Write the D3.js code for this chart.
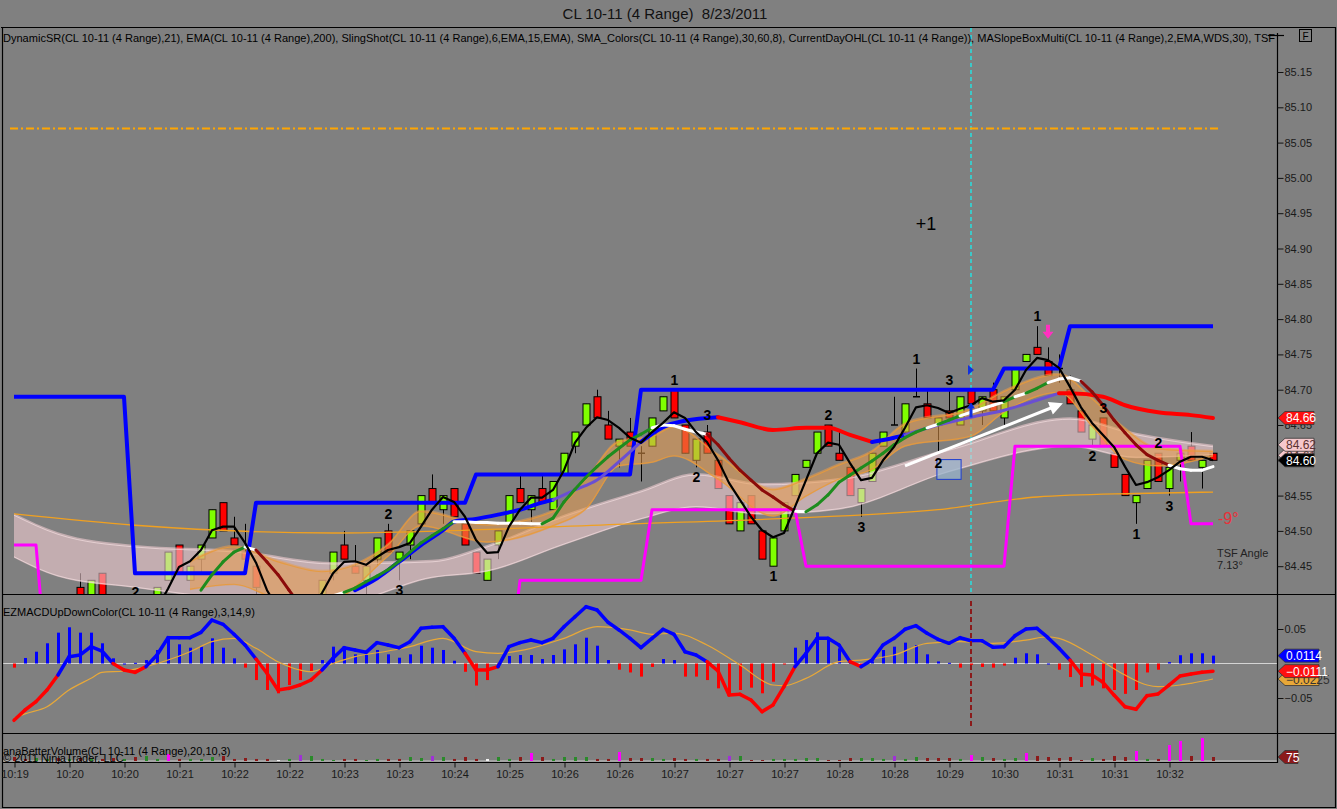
<!DOCTYPE html>
<html>
<head>
<meta charset="utf-8">
<script src="https://cdn.jsdelivr.net/npm/d3@7"></script>
<style>
html, body { margin: 0; padding: 0; background: #808080; }
svg { display: block; font-family: "Liberation Sans", Arial, sans-serif; }
</style>
</head>
<body>
<svg id="chart" width="1337" height="809"></svg>
<script>
// ---- data ----
var opens  = [84.33,84.31,84.35,84.39,84.36,84.40,84.42,84.39,84.44,84.39, 84.36,84.40,84.37,84.39,84.43,84.48,84.43,84.46,84.49,84.54,
              84.49,84.47,84.45,84.41,84.36,84.33,84.37,84.40,84.39,84.44, 84.48,84.45,84.43,84.46,84.50,84.46,84.48,84.51,84.56,84.53,
              84.56,84.51,84.47,84.43,84.48,84.51,84.56,84.53,84.56,84.53, 84.58,84.62,84.65,84.69,84.65,84.62,84.64,84.61,84.62,84.67,
              84.70,84.65,84.60,84.64,84.60,84.55,84.50,84.55,84.50,84.45, 84.50,84.55,84.59,84.61,84.65,84.61,84.59,84.54,84.57,84.62,
              84.65,84.64,84.69,84.68,84.65,84.67,84.65,84.70,84.67,84.70, 84.66,84.70,84.74,84.76,84.74,84.73,84.70,84.67,84.63,84.66,
              84.61,84.58,84.54,84.56,84.61,84.56,84.60,84.62,84.59,84.61];
var highs  = [84.34,84.34,84.38,84.39,84.39,84.40,84.44,84.43,84.44,84.39, 84.39,84.40,84.40,84.42,84.47,84.48,84.45,84.48,84.53,84.54,
              84.52,84.51,84.45,84.41,84.36,84.36,84.40,84.41,84.43,84.47, 84.50,84.48,84.45,84.49,84.51,84.47,84.50,84.55,84.58,84.55,
              84.56,84.51,84.47,84.46,84.50,84.55,84.58,84.55,84.58,84.57, 84.61,84.64,84.68,84.70,84.67,84.63,84.66,84.62,84.66,84.69,
              84.70,84.65,84.63,84.65,84.60,84.55,84.54,84.55,84.50,84.49, 84.54,84.58,84.60,84.64,84.65,84.64,84.59,84.56,84.61,84.64,
              84.69,84.68,84.73,84.70,84.66,84.70,84.69,84.70,84.69,84.71, 84.69,84.73,84.75,84.79,84.76,84.75,84.72,84.67,84.65,84.66,
              84.61,84.58,84.55,84.60,84.61,84.59,84.61,84.64,84.60,84.61];
var lows   = [84.30,84.31,84.34,84.35,84.35,84.36,84.40,84.39,84.40,84.35, 84.35,84.36,84.36,84.38,84.43,84.44,84.43,84.44,84.49,84.50,
              84.48,84.46,84.41,84.37,84.32,84.32,84.36,84.37,84.38,84.43, 84.46,84.44,84.41,84.45,84.47,84.43,84.46,84.51,84.54,84.51,
              84.52,84.48,84.44,84.43,84.46,84.51,84.54,84.51,84.54,84.53, 84.58,84.61,84.65,84.66,84.63,84.59,84.62,84.57,84.62,84.67,
              84.66,84.61,84.59,84.61,84.56,84.51,84.50,84.51,84.46,84.45, 84.50,84.55,84.59,84.61,84.62,84.60,84.55,84.52,84.57,84.62,
              84.65,84.64,84.69,84.66,84.61,84.66,84.65,84.68,84.65,84.67, 84.65,84.70,84.74,84.75,84.72,84.71,84.68,84.64,84.62,84.62,
              84.59,84.55,84.51,84.56,84.57,84.55,84.57,84.60,84.56,84.60];
var closes = [84.30,84.34,84.38,84.35,84.39,84.36,84.40,84.43,84.40,84.35, 84.39,84.37,84.40,84.42,84.47,84.44,84.45,84.48,84.53,84.50,
              84.48,84.46,84.42,84.37,84.33,84.36,84.40,84.37,84.43,84.47, 84.46,84.44,84.45,84.49,84.47,84.47,84.50,84.55,84.54,84.55,
              84.52,84.48,84.44,84.46,84.50,84.55,84.54,84.55,84.54,84.57, 84.61,84.64,84.68,84.66,84.63,84.63,84.62,84.61,84.66,84.69,
              84.66,84.61,84.63,84.61,84.56,84.51,84.54,84.51,84.46,84.49, 84.54,84.58,84.60,84.64,84.62,84.60,84.55,84.56,84.61,84.64,
              84.65,84.68,84.69,84.66,84.66,84.66,84.69,84.68,84.69,84.67, 84.69,84.73,84.75,84.75,84.72,84.73,84.68,84.64,84.65,84.62,
              84.59,84.55,84.55,84.60,84.57,84.59,84.61,84.60,84.60,84.60];

var timeTickBars = [0,5,10,15,20,25,30,35,40,45,50,55,60,65,70,75,80,85,90,95,100,105];
var timeLabels = ["10:19","10:20","10:20","10:21","10:22","10:22","10:23","10:23","10:24","10:25","10:26",
                  "10:26","10:27","10:27","10:27","10:28","10:28","10:29","10:30","10:31","10:31","10:32"];
var priceTicks = [85.15,85.10,85.05,85.00,84.95,84.90,84.85,84.80,84.75,84.70,84.65,84.60,84.55,84.50,84.45];
var macdTicks = [0.05,-0.05];

// DynamicSR steps: [fromBar, toBar, level]
var resistRuns = [[0,10,84.69],[11,21,84.44],[22,41,84.54],[42,56,84.58],[57,89,84.70],[90,95,84.73],[96,109,84.79]];
var supportRuns = [[0,2,84.48],[3,45,84.30],[46,57,84.43],[58,71,84.53],[72,90,84.45],[91,106,84.62],[107,109,84.51]];
var dayHigh = 85.07;

// SlingShot fast (black) and slow (slope coloured)
var fastStart = 13;
var fastLine = [84.39,84.418,84.449,84.457,84.473,84.501,84.506,84.506,84.483,84.455,84.416,84.39,84.37,84.37,84.39,
  84.412,84.440,84.456,84.457,84.452,84.463,84.473,84.477,84.483,84.506,84.530,84.548,84.541,84.520,84.487,84.469,84.470,
  84.506,84.530,84.547,84.547,84.558,84.586,84.625,84.646,84.661,84.657,84.646,84.632,84.625,84.640,84.653,84.668,84.660,
  84.640,84.626,84.600,84.568,84.544,84.520,84.501,84.491,84.497,84.534,84.572,84.610,84.625,84.622,84.596,84.572,84.575,
  84.600,84.619,84.646,84.675,84.678,84.674,84.667,84.673,84.678,84.688,84.683,84.685,84.700,84.728,84.745,84.742,84.731,
  84.704,84.675,84.653,84.636,84.619,84.591,84.565,84.569,84.576,84.586,84.598,84.605,84.605,84.600];
var slowStart = 17;
var slowLine = [84.416,84.438,84.456,84.470,84.477,84.473,84.456,84.438,84.416,84.395,
  84.390,84.400,84.408,84.413,84.419,84.428,84.436,84.445,84.457,84.470,
  84.483,84.493,84.503,84.513,84.513,84.512,84.512,84.511,84.511,84.511,
  84.510,84.510,84.518,84.541,84.559,84.576,84.591,84.605,84.617,84.629,
  84.637,84.646,84.650,84.649,84.644,84.640,84.637,84.622,84.603,84.586,
  84.572,84.558,84.548,84.537,84.528,84.527,84.537,84.551,84.569,84.579,
  84.589,84.599,84.610,84.622,84.632,84.640,84.646,84.651,84.657,84.663,
  84.668,84.673,84.678,84.683,84.690,84.695,84.702,84.710,84.715,84.717,
  84.712,84.697,84.678,84.657,84.639,84.622,84.608,84.600,84.593,84.588,84.586,84.586,84.591];

// MASlopeBox line: sampled [bar, price] and its state runs
var trendPts = [[31,84.416],[33,84.433],[35,84.456],[37,84.480],[39,84.501],[40,84.513],[42,84.517],[44,84.523],[46,84.530],
  [48,84.540],[49,84.544],[51,84.558],[53,84.572],[55,84.598],[57,84.626],[59,84.647],[61,84.656],[64,84.661],[66,84.654],
  [69,84.643],[72,84.646],[74,84.646],[76,84.636],[78,84.626],[80,84.632],[81,84.636],[84,84.650],[87,84.661],[90,84.671],
  [93,84.685],[95,84.695],[96,84.695],[99,84.690],[101,84.678],[104,84.668],[107,84.664],[109,84.660]];
var trendRuns = [[31,49,"up"],[49,57,"mid"],[57,64,"up"],[64,78,"down"],[78,81,"up"],[81,95,"mid"],[95,109,"down"]];

// SMA_Colors bands
var pinkIdx   = [0,4,11,20,29,38,43,50,57,62,68,75,85,96,102,109];
var pinkUpper = [84.525,84.498,84.480,84.473,84.456,84.459,84.480,84.523,84.558,84.582,84.568,84.575,84.617,84.661,84.639,84.622];
var pinkLower = [84.462,84.435,84.419,84.402,84.395,84.433,84.442,84.480,84.516,84.533,84.523,84.530,84.583,84.619,84.603,84.607];
var orangeIdx   = [16,20,24,28,34,37,43,49,52,55,58,60,64,69,72,75,78,81,87,90,95,98,101,104,109];
var orangeUpper = [84.459,84.480,84.459,84.445,84.483,84.530,84.511,84.530,84.576,84.629,84.636,84.650,84.610,84.561,84.576,
                   84.596,84.615,84.654,84.675,84.700,84.724,84.690,84.647,84.619,84.615];
var orangeLower = [84.416,84.423,84.402,84.395,84.463,84.506,84.483,84.506,84.530,84.591,84.596,84.605,84.572,84.520,84.548,
                   84.572,84.586,84.619,84.633,84.667,84.695,84.647,84.600,84.591,84.605];
var emaIdx = [0,11,29,39,56,69,84,93,102,109];
var emaVal = [84.524,84.508,84.497,84.500,84.510,84.517,84.530,84.548,84.553,84.555];

// swing counts: [bar, text, side]
var swingLabels = [[11,"2","above"],[34,"2","above"],[35,"3","below"],[60,"1","above"],[62,"2","below"],[63,"3","above"],
  [69,"1","below"],[74,"2","above"],[77,"3","below"],[82,"1","above"],[84,"2","below"],[85,"3","above"],[93,"1","above"],
  [98,"2","below"],[99,"3","above"],[102,"1","below"],[104,"2","above"],[105,"3","below"]];
var trendArrow = [[81,84.592],[94.9,84.678]];
var slopeBox = [[83.9,84.601],[86.1,84.573]];
var cursorBar = 87;

// EZMACD
var macdLine = [-0.0823,-0.0674,-0.0553,-0.0384,-0.0167,0.0099,0.0123,0.0244,0.0181,0.0,
  -0.0094,-0.0128,-0.0046,0.0123,0.0374,0.0374,0.0374,0.0452,0.063,0.0568,
  0.0423,0.0268,0.0065,-0.0142,-0.0384,-0.036,-0.0312,-0.0239,-0.0094,0.0075,
  0.0229,0.0196,0.0162,0.0302,0.0268,0.0229,0.0316,0.051,0.0525,0.0533,
  0.0365,0.0148,-0.0094,-0.0094,-0.0046,0.0244,0.0302,0.034,0.0302,0.0365,
  0.0533,0.0678,0.0823,0.0775,0.0597,0.0486,0.0365,0.0229,0.0365,0.0496,
  0.0423,0.0171,0.0123,0.0026,-0.0109,-0.0457,-0.0447,-0.0529,-0.0698,-0.0601,
  -0.0336,-0.0046,0.0148,0.0365,0.0365,0.0268,0.0026,-0.0046,0.005,0.0268,
  0.0365,0.0496,0.0548,0.0438,0.0351,0.0293,0.0374,0.033,0.033,0.0235,
  0.0244,0.0403,0.05,0.051,0.0374,0.022,0.005,-0.0152,-0.0167,-0.0273,
  -0.0457,-0.0626,-0.0664,-0.0467,-0.0442,-0.0312,-0.0181,-0.0152,-0.0128,-0.0111];
var macdHist = [-0.006,0.008,0.0171,0.0293,0.0447,0.0525,0.0447,0.0447,0.0293,0.0075,
  0,0.001,0.005,0.0196,0.0399,0.0278,0.0229,0.0244,0.0365,0.0229,
  0.0075,-0.006,-0.024,-0.0384,-0.0432,-0.0312,-0.024,-0.0109,0.005,0.0244,
  0.0244,0.0133,0.0123,0.0196,0.0133,0.0084,0.0133,0.0258,0.0229,0.0196,
  0.004,-0.012,-0.032,-0.024,-0.006,0.0109,0.0123,0.0123,0.0065,0.0123,
  0.0205,0.0278,0.0374,0.0258,0.005,-0.009,-0.013,-0.019,-0.005,0.0065,
  0.005,-0.019,-0.019,-0.024,-0.036,-0.0457,-0.0384,-0.035,-0.0432,-0.0264,
  -0.001,0.0229,0.034,0.0452,0.0365,0.022,0.005,-0.005,0.003,0.0196,
  0.0244,0.0302,0.0268,0.0133,0.003,0.001,-0.006,-0.002,-0.005,-0.006,
  -0.003,0.0084,0.0148,0.0133,0,-0.009,-0.0196,-0.034,-0.032,-0.036,
  -0.0384,-0.044,-0.0384,-0.013,-0.009,0.002,0.012,0.0148,0.0148,0.0114];
var sigIdx = [0,1,3,5,7,8,10,12,14,16,18,20,22,24,26,27,29,31,34,36,38,39,42,44,47,50,53,56,58,60,
  63,66,69,70,72,75,77,80,83,86,89,92,94,95,98,101,103,104,106,107,109];
var sigVal = [-0.0794,-0.073,-0.0626,-0.0384,-0.0215,-0.0128,-0.0109,-0.0046,0.005,0.0171,
  0.0316,0.0365,0.022,0.0026,-0.0094,-0.0119,0,0.0099,0.0181,0.0244,
  0.034,0.0365,0.0171,0.0148,0.022,0.0365,0.0533,0.0486,0.0423,0.044,
  0.0268,-0.0022,-0.0312,-0.0322,-0.0215,0.0026,0.005,0.0123,0.0293,0.0316,
  0.0293,0.034,0.0388,0.0365,0.0123,-0.0167,-0.0312,-0.0336,-0.0312,-0.0287,-0.0225];

// anaBetterVolume: value and bar type (u up, d down, c climax, h churn, l low)
var volumes = [75,38,56,38,56,38,56,38,38,56, 38,75,94,38,130,38,38,38,75,94, 38,56,38,38,19,38,112,94,38,19,
  38,38,19,38,38,38,75,56,94,75, 38,75,38,38,75,38,75,150,75,38, 75,75,75,38,38,169,56,56,56,38,
  56,38,38,38,38,94,94,19,19,38, 38,38,56,56,19,19,56,56,56,38, 94,38,75,56,56,56,38,112,75,56,
  38,56,150,94,75,56,75,19,56,38, 94,75,188,38,38,300,375,94,430,75];
var volTypes = ("dduudududd" + "uduucduuud" + "ddddluhuuu" + "dduudduuhu" + "dddluudcdu" +
  "uuuddcdduu" + "dduddhuddu" + "uuuuddduuu" + "huuddducud" + "uucdddddud" + "ddcudccdcd").split("");

// ---- drawing ----
var svg = d3.select("#chart");
var x = d3.scaleLinear().domain([0, 109]).range([14, 1213]);
var y = d3.scaleLinear().domain([84.45, 85.15]).range([566.2, 72]);
var ym = d3.scaleLinear().domain([-0.05, 0.05]).range([698, 629]);
var yv = d3.scaleLinear().domain([0, 75]).range([761, 757]);
var font = "Liberation Sans, Arial, sans-serif";

var defs = svg.append("defs");
defs.append("clipPath").attr("id", "clipPrice").append("rect")
  .attr("x", 3).attr("y", 28).attr("width", 1274).attr("height", 566);
defs.append("clipPath").attr("id", "clipMacd").append("rect")
  .attr("x", 3).attr("y", 595).attr("width", 1274).attr("height", 138);
defs.append("marker").attr("id", "wArrow").attr("viewBox", "0 0 10 10")
  .attr("refX", 6).attr("refY", 5).attr("markerWidth", 5).attr("markerHeight", 4.5)
  .attr("orient", "auto")
  .append("path").attr("d", "M0,0 L10,5 L0,10 z").attr("fill", "#fff");

svg.append("rect").attr("width", 1337).attr("height", 809).attr("fill", "#808080");

// title
svg.append("text").attr("x", 665).attr("y", 19).attr("text-anchor", "middle")
  .attr("font-size", 15).attr("fill", "#111").style("white-space", "pre")
  .text("CL 10-11 (4 Range)  8/23/2011");

// ---------- price panel ----------
var gp = svg.append("g").attr("clip-path", "url(#clipPrice)");

gp.append("line").attr("x1", x(cursorBar)).attr("x2", x(cursorBar)).attr("y1", 28).attr("y2", 594)
  .attr("stroke", "#3cc8c8").attr("stroke-width", 2).attr("stroke-dasharray", "4,3");

gp.append("line").attr("x1", x(0) - 4).attr("x2", x(109) + 7).attr("y1", y(dayHigh)).attr("y2", y(dayHigh))
  .attr("stroke", "#ffa500").attr("stroke-width", 2).attr("stroke-dasharray", "8,3,2,3");

// candles
var idx = d3.range(opens.length);
gp.selectAll("line.wick").data(idx).join("line").attr("class", "wick")
  .attr("x1", function(i) { return x(i) + 0.5; }).attr("x2", function(i) { return x(i) + 0.5; })
  .attr("y1", function(i) { return y(highs[i]); }).attr("y2", function(i) { return y(lows[i]); })
  .attr("stroke", "#000").attr("stroke-width", 1);
gp.selectAll("rect.body").data(idx.filter(function(i) { return opens[i] !== closes[i]; })).join("rect")
  .attr("class", "body")
  .attr("x", function(i) { return x(i) - 3; }).attr("width", 7)
  .attr("y", function(i) { return y(Math.max(opens[i], closes[i])); })
  .attr("height", function(i) { return Math.abs(y(opens[i]) - y(closes[i])); })
  .attr("fill", function(i) { return closes[i] > opens[i] ? "#7fff00" : "#ff0000"; })
  .attr("stroke", "#000").attr("stroke-width", 1);
gp.selectAll("line.doji").data(idx.filter(function(i) { return opens[i] === closes[i]; })).join("line")
  .attr("class", "doji")
  .attr("x1", function(i) { return x(i) - 3; }).attr("x2", function(i) { return x(i) + 4; })
  .attr("y1", function(i) { return y(opens[i]); }).attr("y2", function(i) { return y(opens[i]); })
  .attr("stroke", "#000").attr("stroke-width", 1.5);

// bands drawn over candles (translucent)
function band(ix, up, lo, fill, op, edge, edgeOp, edgeW) {
  var pts = ix.map(function(d, k) { return [d, up[k], lo[k]]; });
  gp.append("path").datum(pts)
    .attr("d", d3.area().curve(d3.curveMonotoneX)
      .x(function(d) { return x(d[0]); }).y0(function(d) { return y(d[2]); }).y1(function(d) { return y(d[1]); }))
    .attr("fill", fill).attr("opacity", op);
  [1, 2].forEach(function(c) {
    gp.append("path").datum(pts)
      .attr("d", d3.line().curve(d3.curveMonotoneX)
        .x(function(d) { return x(d[0]); }).y(function(d) { return y(d[c]) + (c === 1 ? 2 : -1); }))
      .attr("fill", "none").attr("stroke", edge).attr("stroke-width", edgeW).attr("opacity", edgeOp);
  });
}
band(pinkIdx, pinkUpper, pinkLower, "#f3cdd2", 0.58, "#fbe6e8", 0.6, 1);
band(orangeIdx, orangeUpper, orangeLower, "#e89a4c", 0.55, "#e89a3a", 0.85, 1.2);

// EMA 200
gp.append("path").datum(emaIdx.map(function(d, k) { return [d, emaVal[k]]; }))
  .attr("d", d3.line().curve(d3.curveMonotoneX)
    .x(function(d) { return x(d[0]); }).y(function(d) { return y(d[1]); }))
  .attr("fill", "none").attr("stroke", "#f0a020").attr("stroke-width", 1.3);

// DynamicSR step lines
function steps(runs, color, w) {
  var pts = [];
  runs.forEach(function(r) { pts.push([r[0], r[2]]); pts.push([r[1], r[2]]); });
  gp.append("path").datum(pts)
    .attr("d", d3.line().x(function(d) { return x(d[0]); }).y(function(d) { return y(d[1]); }))
    .attr("fill", "none").attr("stroke", color).attr("stroke-width", w).attr("stroke-linejoin", "round");
}
steps(supportRuns, "#ff00ff", 3);
steps(resistRuns, "#0000ff", 4);

// slope box
gp.append("rect").attr("x", x(slopeBox[0][0])).attr("y", y(slopeBox[0][1]))
  .attr("width", x(slopeBox[1][0]) - x(slopeBox[0][0])).attr("height", y(slopeBox[1][1]) - y(slopeBox[0][1]))
  .attr("fill", "#9ab4cc").attr("fill-opacity", 0.75).attr("stroke", "#1c3cd0").attr("stroke-width", 1);

// trend line by state
var trendColor = { up: "#0000ff", mid: "#6a4fd2", down: "#ff0000" };
trendRuns.forEach(function(r) {
  var pts = trendPts.filter(function(p) { return p[0] >= r[0] && p[0] <= r[1]; });
  gp.append("path").datum(pts)
    .attr("d", d3.line().curve(d3.curveMonotoneX)
      .x(function(d) { return x(d[0]); }).y(function(d) { return y(d[1]); }))
    .attr("fill", "none").attr("stroke", trendColor[r[2]])
    .attr("stroke-width", r[2] === "mid" ? 3 : 4).attr("stroke-linecap", "round");
});

// slow line, coloured by slope
slowLine.forEach(function(v, k) {
  if (k === 0) return;
  var d = v - slowLine[k - 1];
  var c = d > 0.0055 ? "#1e8c1e" : (d < -0.0055 ? "#8b0a0a" : "#ffffff");
  gp.append("line")
    .attr("x1", x(slowStart + k - 1)).attr("y1", y(slowLine[k - 1]))
    .attr("x2", x(slowStart + k)).attr("y2", y(v))
    .attr("stroke", c).attr("stroke-width", 3).attr("stroke-linecap", "round");
});

// fast line
gp.append("path").datum(fastLine)
  .attr("d", d3.line().x(function(d, k) { return x(fastStart + k); }).y(function(d) { return y(d); }))
  .attr("fill", "none").attr("stroke", "#000").attr("stroke-width", 2.2).attr("stroke-linejoin", "round");

// TSF arrow
gp.append("line")
  .attr("x1", x(trendArrow[0][0])).attr("y1", y(trendArrow[0][1]))
  .attr("x2", x(trendArrow[1][0])).attr("y2", y(trendArrow[1][1]))
  .attr("stroke", "#fff").attr("stroke-width", 3).attr("marker-end", "url(#wArrow)");

// markers around cursor
var cx = x(cursorBar);
gp.append("path").attr("d", "M" + (cx - 3) + "," + (y(84.728) - 5) + "l6,5l-6,5z").attr("fill", "#1030e0");
gp.append("path")
  .attr("d", "M" + cx + "," + y(84.682) + "l-4,6h2.5v9h3v-9h2.5z").attr("fill", "#1030e0");
var mx = x(94);
gp.append("path")
  .attr("d", "M" + (mx - 2) + "," + y(84.792) + "h4v7h3.5l-5.5,7l-5.5,-7h3.5z").attr("fill", "#ff30c0");

// swing labels
gp.selectAll("text.swing").data(swingLabels).join("text").attr("class", "swing")
  .attr("x", function(d) { return x(d[0]) + 0.5; })
  .attr("y", function(d) { return d[2] === "above" ? y(highs[d[0]]) - 5 : y(lows[d[0]]) + 15; })
  .attr("text-anchor", "middle").attr("font-size", 14).attr("font-weight", "bold").attr("fill", "#000")
  .text(function(d) { return d[1]; });

gp.append("text").attr("x", 926).attr("y", y(84.936) + 7).attr("text-anchor", "middle")
  .attr("font-size", 18).attr("fill", "#000").text("+1");

// TSF angle texts
svg.append("text").attr("x", x(109) + 5).attr("y", y(supportRuns[supportRuns.length - 1][2]))
  .attr("font-size", 16).attr("fill", "#e8303a").text("-9°");
svg.append("text").attr("x", 1217).attr("y", 557).attr("font-size", 11).attr("fill", "#222").text("TSF Angle");
svg.append("text").attr("x", 1217).attr("y", 569).attr("font-size", 11).attr("fill", "#222").text("7.13°");

// legend
svg.append("text").attr("x", 3).attr("y", 42).attr("font-size", 11).attr("fill", "#000")
  .attr("textLength", 1272).attr("lengthAdjust", "spacingAndGlyphs")
  .text("DynamicSR(CL 10-11 (4 Range),21), EMA(CL 10-11 (4 Range),200), SlingShot(CL 10-11 (4 Range),6,EMA,15,EMA), SMA_Colors(CL 10-11 (4 Range),30,60,8), CurrentDayOHL(CL 10-11 (4 Range)), MASlopeBoxMulti(CL 10-11 (4 Range),2,EMA,WDS,30), TSF");

// ---------- MACD panel ----------
var gm = svg.append("g").attr("clip-path", "url(#clipMacd)");
gm.append("line").attr("x1", 3).attr("x2", 1277).attr("y1", ym(0)).attr("y2", ym(0))
  .attr("stroke", "#d4d4d4").attr("stroke-width", 1);
gm.selectAll("rect.hist").data(macdHist).join("rect").attr("class", "hist")
  .attr("x", function(d, i) { return x(i) - 1; }).attr("width", 3)
  .attr("y", function(d) { return Math.min(ym(d), ym(0)); })
  .attr("height", function(d) { return Math.max(1, Math.abs(ym(d) - ym(0))); })
  .attr("fill", function(d) { return d >= 0 ? "#0000ff" : "#ff0000"; });
gm.append("path").datum(sigIdx.map(function(d, k) { return [d, sigVal[k]]; }))
  .attr("d", d3.line().curve(d3.curveMonotoneX)
    .x(function(d) { return x(d[0]); }).y(function(d) { return ym(d[1]); }))
  .attr("fill", "none").attr("stroke", "#e8a838").attr("stroke-width", 1.2);
macdLine.forEach(function(v, i) {
  if (i === 0) return;
  gm.append("line").attr("x1", x(i - 1)).attr("y1", ym(macdLine[i - 1])).attr("x2", x(i)).attr("y2", ym(v))
    .attr("stroke", v >= 0 ? "#0000ff" : "#ff0000").attr("stroke-width", 3.5).attr("stroke-linecap", "round");
});
gm.append("line").attr("x1", cx).attr("x2", cx).attr("y1", 601).attr("y2", 728)
  .attr("stroke", "#8b1a1a").attr("stroke-width", 2).attr("stroke-dasharray", "5,3");
svg.append("text").attr("x", 3).attr("y", 616).attr("font-size", 11).attr("fill", "#000")
  .text("EZMACDUpDownColor(CL 10-11 (4 Range),3,14,9)");

// ---------- volume panel ----------
var volColor = { u: "#2a8a2a", d: "#8b1a1a", c: "#ff00ff", h: "#a030d8", l: "#f4f4f4" };
svg.append("line").attr("x1", 3).attr("x2", 1277).attr("y1", 761).attr("y2", 761)
  .attr("stroke", "#c8c8c8").attr("stroke-width", 1);
svg.selectAll("rect.vol").data(volumes).join("rect").attr("class", "vol")
  .attr("x", function(d, i) { return x(i) - 1; }).attr("width", 3)
  .attr("y", function(d) { return yv(d); })
  .attr("height", function(d) { return 761 - yv(d); })
  .attr("fill", function(d, i) { return volColor[volTypes[i]] || volColor.d; });
svg.append("text").attr("x", 3).attr("y", 755).attr("font-size", 11).attr("fill", "#000")
  .text("anaBetterVolume(CL 10-11 (4 Range),20,10,3)");
svg.append("text").attr("x", 3).attr("y", 762).attr("font-size", 11).attr("fill", "#000")
  .text("© 2011 NinjaTrader, LLC");

// ---------- frame ----------
function seg(x1, y1, x2, y2) {
  svg.append("line").attr("x1", x1).attr("y1", y1).attr("x2", x2).attr("y2", y2)
    .attr("stroke", "#000").attr("stroke-width", 1.2);
}
seg(1, 27.5, 1336, 27.5);
seg(2.5, 27, 2.5, 808);
seg(1335.5, 27, 1335.5, 808);
seg(2, 807.5, 1336, 807.5);
seg(2, 594.5, 1336, 594.5);
seg(2, 733.5, 1336, 733.5);
seg(2, 762.5, 1277, 762.5);
seg(1277.5, 33, 1277.5, 763);
seg(1268, 35.5, 1284, 35.5);
svg.append("rect").attr("x", 1299.5).attr("y", 29.5).attr("width", 12).attr("height", 12)
  .attr("fill", "none").attr("stroke", "#000");
svg.append("text").attr("x", 1305.5).attr("y", 39.5).attr("text-anchor", "middle")
  .attr("font-size", 10).attr("fill", "#000").text("F");

// ---------- axes ----------
function styleAxis(g) {
  g.select(".domain").remove();
  g.attr("font-family", font).attr("font-size", 11);
  g.selectAll("text").attr("fill", "#1a1a1a");
  g.selectAll("line").attr("stroke", "#111");
}
svg.append("g").attr("transform", "translate(1277.5,0)")
  .call(d3.axisRight(y).tickValues(priceTicks).tickFormat(d3.format(".2f")).tickSize(6).tickPadding(1))
  .call(styleAxis);
svg.append("g").attr("transform", "translate(1277.5,0)")
  .call(d3.axisRight(ym).tickValues(macdTicks).tickFormat(d3.format(".2f")).tickSize(6).tickPadding(1))
  .call(styleAxis);
svg.append("g").attr("transform", "translate(0.5,762.5)")
  .call(d3.axisBottom(x).tickValues(timeTickBars).tickFormat(function(d, i) { return timeLabels[i]; })
    .tickSize(5).tickPadding(3))
  .call(styleAxis);

// ---------- value flags ----------
function flag(yc, label, fill, color, w) {
  var x0 = 1278;
  svg.append("path")
    .attr("d", "M" + x0 + "," + yc + "L" + (x0 + 7) + "," + (yc - 6.5) + "H" + (x0 + w) + "V" + (yc + 6.5) +
      "H" + (x0 + 7) + "Z")
    .attr("fill", fill).attr("stroke", "#333").attr("stroke-width", 0.8);
  svg.append("text").attr("x", x0 + 8).attr("y", yc + 4.5).attr("font-size", 12).attr("fill", color).text(label);
}
var f2 = d3.format(".2f"), f4 = d3.format(".4f");
flag(y(pinkLower[pinkLower.length - 1]), f2(pinkLower[pinkLower.length - 1]), "#f6c8cc", "#5a3030", 36);
flag(y(pinkUpper[pinkUpper.length - 1]), f2(pinkUpper[pinkUpper.length - 1]), "#f6c8cc", "#5a3030", 36);
flag(y(closes[closes.length - 1]), f2(closes[closes.length - 1]), "#000", "#fff", 36);
flag(y(trendPts[trendPts.length - 1][1]), f2(trendPts[trendPts.length - 1][1]), "#ff1010", "#fff", 36);
flag(ym(sigVal[sigVal.length - 1]), f4(sigVal[sigVal.length - 1]), "#e8a838", "#333", 41);
flag(ym(macdLine[macdLine.length - 1]), f4(macdLine[macdLine.length - 1]), "#ff1010", "#fff", 41);
flag(ym(macdHist[macdHist.length - 1]), f4(macdHist[macdHist.length - 1]), "#0000ff", "#fff", 41);
flag(yv(volumes[volumes.length - 1]), String(volumes[volumes.length - 1]), "#8b1a1a", "#fff", 20);
</script>
</body>
</html>
